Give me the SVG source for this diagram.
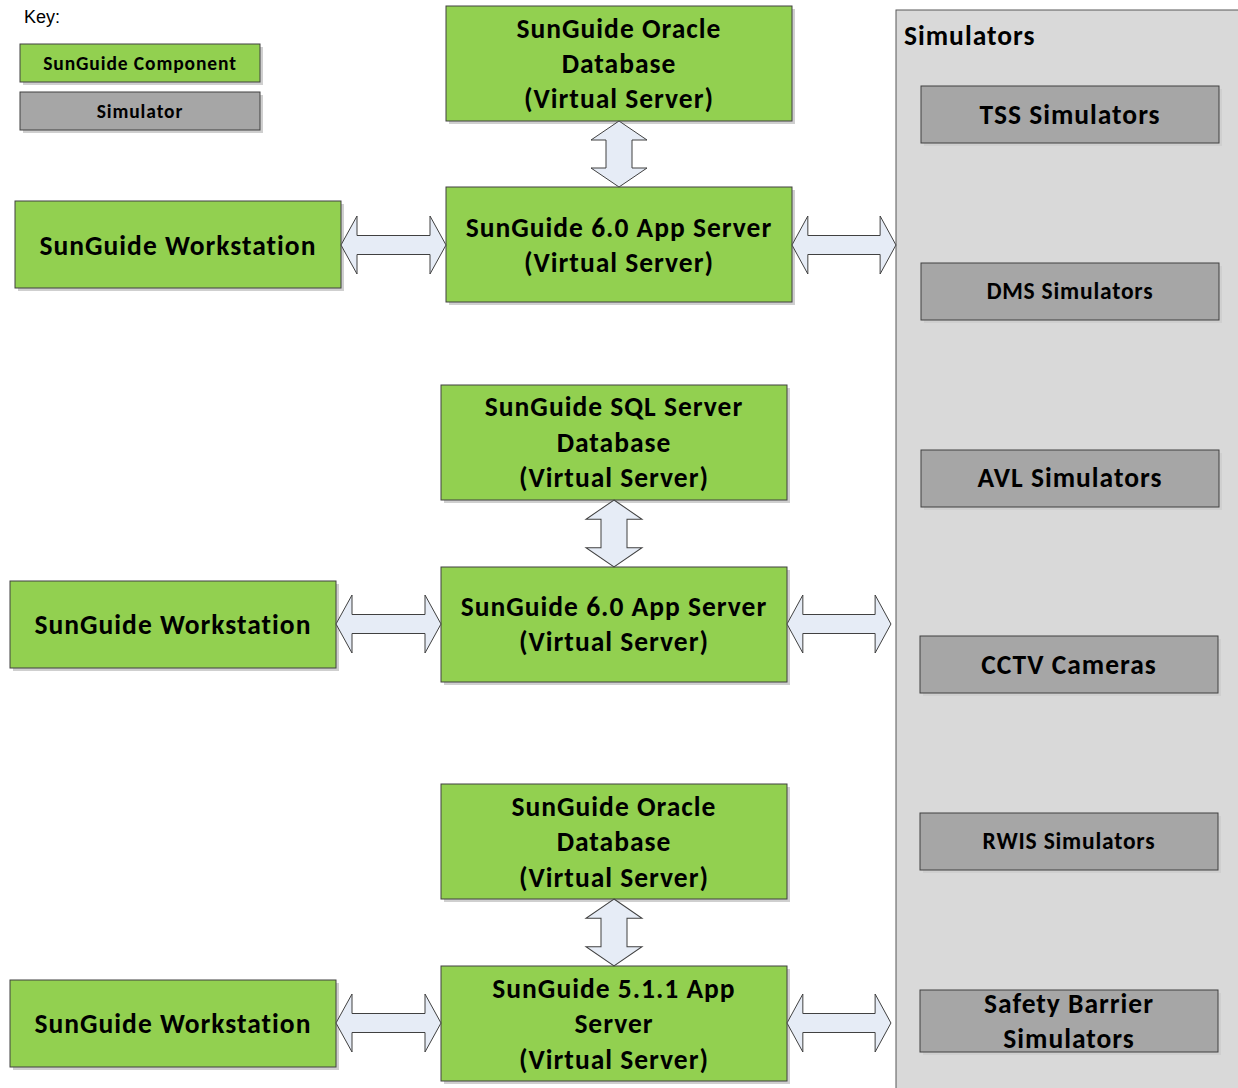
<svg xmlns="http://www.w3.org/2000/svg" width="1238" height="1088" viewBox="0 0 1238 1088">
<style>
.g{fill:#92d050;stroke:#404040;stroke-width:1}
.s{fill:#a6a6a6;stroke:#404040;stroke-width:1}
.sh{fill:#cfcfcf}
.arr{fill:#e6ecf6;stroke:#404040;stroke-width:1}
.t{font-family:Carlito,Lato,"Open Sans",sans-serif;font-weight:bold;fill:#000;text-anchor:middle;dominant-baseline:central}
.t26{font-size:27.5px;letter-spacing:1px}
.t22{font-size:23.5px;letter-spacing:0.8px}
.t18{font-size:19.5px;letter-spacing:0.9px}
</style>
<defs>
<path id="ha" d="M0,0 L16,-29 L16,-9.5 L89,-9.5 L89,-29 L105,0 L89,29 L89,9.5 L16,9.5 L16,29 Z"/>
<path id="va" d="M0,0 L28,19 L13,19 L13,47 L28,47 L0,66 L-28,47 L-13,47 L-13,19 L-28,19 Z"/>
</defs>
<rect width="1238" height="1088" fill="#fff"/>

<g id="key">
<text x="24" y="23" font-family="Liberation Sans,Arial,sans-serif" font-size="18">Key:</text>
<rect class="sh" x="23" y="47" width="240" height="38"/>
<rect class="g" x="20" y="44" width="240" height="38"/>
<text class="t t18" x="140" y="63">SunGuide Component</text>
<rect class="sh" x="23" y="95" width="240" height="38"/>
<rect class="s" x="20" y="92" width="240" height="38"/>
<text class="t t18" x="140" y="111">Simulator</text>
</g>

<g id="simulators">
<rect x="896" y="10" width="346" height="1082" fill="#d9d9d9" stroke="#595959" stroke-width="1"/>
<text class="t t26" x="904" y="35" style="text-anchor:start">Simulators</text>
</g>

<g id="tss">
<rect class="sh" x="924" y="89" width="298" height="57"/>
<rect class="s" x="921" y="86" width="298" height="57"/>
<text class="t t26" x="1070" y="114">TSS Simulators</text>
</g>
<g id="dms">
<rect class="sh" x="924" y="266" width="298" height="57"/>
<rect class="s" x="921" y="263" width="298" height="57"/>
<text class="t t22" x="1070" y="291">DMS Simulators</text>
</g>
<g id="avl">
<rect class="sh" x="924" y="453" width="298" height="57"/>
<rect class="s" x="921" y="450" width="298" height="57"/>
<text class="t t26" x="1070" y="477">AVL Simulators</text>
</g>
<g id="cctv">
<rect class="sh" x="923" y="639" width="298" height="57"/>
<rect class="s" x="920" y="636" width="298" height="57"/>
<text class="t t26" x="1069" y="664">CCTV Cameras</text>
</g>
<g id="rwis">
<rect class="sh" x="923" y="816" width="298" height="57"/>
<rect class="s" x="920" y="813" width="298" height="57"/>
<text class="t t22" x="1069" y="841">RWIS Simulators</text>
</g>
<g id="safety">
<rect class="sh" x="923" y="993" width="298" height="62"/>
<rect class="s" x="920" y="990" width="298" height="62"/>
<text class="t t26" x="1069" y="1003">Safety Barrier</text>
<text class="t t26" x="1069" y="1038">Simulators</text>
</g>

<g id="db1">
<rect class="sh" x="449" y="9" width="346" height="115"/>
<rect class="g" x="446" y="6" width="346" height="115"/>
<text class="t t26" x="619" y="28">SunGuide Oracle</text>
<text class="t t26" x="619" y="63">Database</text>
<text class="t t26" x="619" y="98">(Virtual Server)</text>
</g>
<g id="app1">
<rect class="sh" x="449" y="190" width="346" height="115"/>
<rect class="g" x="446" y="187" width="346" height="115"/>
<text class="t t26" x="619" y="227">SunGuide 6.0 App Server</text>
<text class="t t26" x="619" y="262">(Virtual Server)</text>
</g>
<g id="ws1">
<rect class="sh" x="18" y="204" width="326" height="87"/>
<rect class="g" x="15" y="201" width="326" height="87"/>
<text class="t t26" x="178" y="245">SunGuide Workstation</text>
</g>

<g id="db2">
<rect class="sh" x="444" y="388" width="346" height="115"/>
<rect class="g" x="441" y="385" width="346" height="115"/>
<text class="t t26" x="614" y="406">SunGuide SQL Server</text>
<text class="t t26" x="614" y="442">Database</text>
<text class="t t26" x="614" y="477">(Virtual Server)</text>
</g>
<g id="app2">
<rect class="sh" x="444" y="570" width="346" height="115"/>
<rect class="g" x="441" y="567" width="346" height="115"/>
<text class="t t26" x="614" y="606">SunGuide 6.0 App Server</text>
<text class="t t26" x="614" y="641">(Virtual Server)</text>
</g>
<g id="ws2">
<rect class="sh" x="13" y="584" width="326" height="87"/>
<rect class="g" x="10" y="581" width="326" height="87"/>
<text class="t t26" x="173" y="624">SunGuide Workstation</text>
</g>

<g id="db3">
<rect class="sh" x="444" y="787" width="346" height="115"/>
<rect class="g" x="441" y="784" width="346" height="115"/>
<text class="t t26" x="614" y="806">SunGuide Oracle</text>
<text class="t t26" x="614" y="841">Database</text>
<text class="t t26" x="614" y="877">(Virtual Server)</text>
</g>
<g id="app3">
<rect class="sh" x="444" y="969" width="346" height="115"/>
<rect class="g" x="441" y="966" width="346" height="115"/>
<text class="t t26" x="614" y="988">SunGuide 5.1.1 App</text>
<text class="t t26" x="614" y="1023">Server</text>
<text class="t t26" x="614" y="1059">(Virtual Server)</text>
</g>
<g id="ws3">
<rect class="sh" x="13" y="983" width="326" height="87"/>
<rect class="g" x="10" y="980" width="326" height="87"/>
<text class="t t26" x="173" y="1023">SunGuide Workstation</text>
</g>

<g id="connectors">
<use href="#va" class="arr" transform="translate(619,121)"/>
<use href="#ha" class="arr" transform="translate(341,245)"/>
<use href="#ha" class="arr" transform="translate(792,245) scale(0.99,1)"/>
<use href="#va" class="arr" transform="translate(614,500) scale(1,1.015)"/>
<use href="#ha" class="arr" transform="translate(336,624)"/>
<use href="#ha" class="arr" transform="translate(787,624) scale(0.99,1)"/>
<use href="#va" class="arr" transform="translate(614,899) scale(1,1.015)"/>
<use href="#ha" class="arr" transform="translate(336,1023)"/>
<use href="#ha" class="arr" transform="translate(787,1023) scale(0.99,1)"/>
</g>
</svg>
